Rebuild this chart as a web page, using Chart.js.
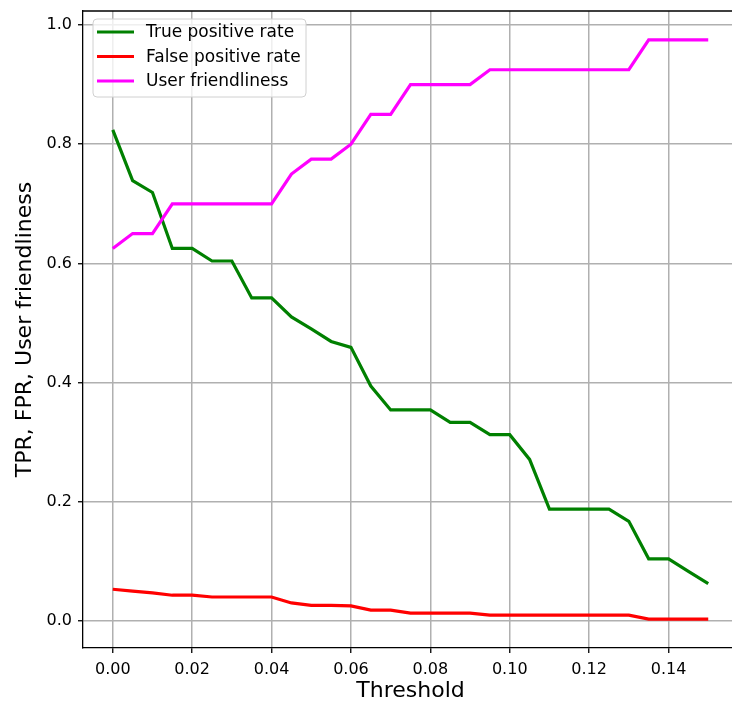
<!DOCTYPE html>
<html>
<head>
<meta charset="utf-8">
<script src="https://cdn.jsdelivr.net/npm/chart.js@4/dist/chart.umd.min.js"></script>
<style>
  html, body { margin: 0; padding: 0; background: #fff; overflow: hidden; }
  #wrap { width: 740px; height: 706px; }
</style>
</head>
<body>
<div id="wrap"><canvas id="rocChart" width="740" height="706"></canvas></div>
<script>
// Valores
const thresholds = [0, 0.005, 0.01, 0.015, 0.02, 0.025, 0.03, 0.035, 0.04, 0.045,
  0.05, 0.055, 0.06, 0.065, 0.07, 0.075, 0.08, 0.085, 0.09, 0.095,
  0.1, 0.105, 0.11, 0.115, 0.12, 0.125, 0.13, 0.135, 0.14, 0.145, 0.15];

const tpr = [0.824, 0.739, 0.719, 0.625, 0.625, 0.604, 0.604, 0.542, 0.542, 0.51,
  0.49, 0.469, 0.459, 0.394, 0.354, 0.354, 0.354, 0.333, 0.333, 0.3125,
  0.3125, 0.271, 0.1875, 0.1875, 0.1875, 0.1875, 0.167, 0.104, 0.104, 0.083, 0.0625];

const fpr = [0.053, 0.05, 0.047, 0.043, 0.043, 0.04, 0.04, 0.04, 0.04, 0.03,
  0.026, 0.026, 0.025, 0.018, 0.018, 0.013, 0.013, 0.013, 0.013, 0.0095,
  0.0095, 0.0095, 0.0095, 0.0095, 0.0095, 0.0095, 0.0095, 0.003, 0.003, 0.003, 0.003];

const userFriendliness = [0.625, 0.65, 0.65, 0.7, 0.7, 0.7, 0.7, 0.7, 0.7, 0.75,
  0.775, 0.775, 0.8, 0.85, 0.85, 0.9, 0.9, 0.9, 0.9, 0.925,
  0.925, 0.925, 0.925, 0.925, 0.925, 0.925, 0.925, 0.975, 0.975, 0.975, 0.975];

const xTicks = [0, 0.02, 0.04, 0.06, 0.08, 0.1, 0.12, 0.14];
const yTicks = [0, 0.2, 0.4, 0.6, 0.8, 1.0];

const seriesLabels = ["True positive rate", "False positive rate", "User friendliness"];

document.addEventListener("DOMContentLoaded", function () {
  loadChart();
});

function toPoints(values) {
  return thresholds.map(function (t, i) { return { x: t, y: values[i] }; });
}

// legenda no estilo do matplotlib, dentro da área do gráfico
const boxLegend = {
  id: "boxLegend",
  afterDraw(chart) {
    const ctx = chart.ctx;
    const area = chart.chartArea;
    const left = area.left + 10;
    const top = area.top + 8;
    const w = 213, h = 78;
    ctx.save();
    ctx.beginPath();
    ctx.roundRect(left, top, w, h, 4);
    ctx.fillStyle = "rgba(255,255,255,0.8)";
    ctx.fill();
    ctx.strokeStyle = "#d0d0d0";
    ctx.lineWidth = 1;
    ctx.stroke();
    ctx.font = "17px 'DejaVu Sans'";
    ctx.textBaseline = "middle";
    chart.data.datasets.forEach(function (ds, i) {
      const y = top + 13 + i * 24.5;
      ctx.beginPath();
      ctx.moveTo(left + 4, y);
      ctx.lineTo(left + 41, y);
      ctx.strokeStyle = ds.borderColor;
      ctx.lineWidth = 3;
      ctx.stroke();
      ctx.fillStyle = "#000";
      ctx.fillText(ds.label, left + 53, y + 1);
    });
    ctx.restore();
  }
};

// moldura superior e direita
const frame = {
  id: "frame",
  afterDatasetsDraw(chart) {
    const ctx = chart.ctx;
    const a = chart.chartArea;
    ctx.save();
    ctx.strokeStyle = "#000";
    ctx.lineWidth = 1.3;
    ctx.beginPath();
    ctx.moveTo(a.left, a.top);
    ctx.lineTo(a.right, a.top);
    ctx.lineTo(a.right, a.bottom);
    ctx.stroke();
    ctx.restore();
  }
};

function loadChart() {
  const ctx = document.getElementById("rocChart").getContext("2d");
  new Chart(ctx, {
    type: "line",
    data: {
      datasets: [
        { label: seriesLabels[0], data: toPoints(tpr), borderColor: "#008000", order: 3 },
        { label: seriesLabels[1], data: toPoints(fpr), borderColor: "#ff0000", order: 2 },
        { label: seriesLabels[2], data: toPoints(userFriendliness), borderColor: "#ff00ff", order: 1 },
      ],
    },
    options: {
      responsive: false,
      animation: false,
      devicePixelRatio: 1,
      layout: { padding: { top: 11, right: 2, left: 0, bottom: 0 } },
      elements: {
        line: { borderWidth: 3.2, tension: 0, fill: false, borderJoinStyle: "miter" },
        point: { radius: 0, hoverRadius: 0 },
      },
      plugins: { legend: { display: false }, tooltip: { enabled: false } },
      scales: {
        x: {
          type: "linear",
          min: -0.0075,
          max: 0.1575,
          afterFit: function (s) {
            s.height = 58;
            s.paddingLeft = 0;
            s.paddingRight = 0;
          },
          afterBuildTicks: function (s) { s.ticks = xTicks.map(function (v) { return { value: v }; }); },
          ticks: {
            color: "#000",
            padding: 7,
            maxRotation: 0,
            font: { family: "'DejaVu Sans'", size: 16 },
            callback: function (v) { return v.toFixed(2); },
          },
          grid: { color: "#b0b0b0", lineWidth: 1.5, tickLength: 5, tickColor: "#000", tickWidth: 1.3 },
          border: { color: "#000", width: 1.3 },
          title: {
            display: true,
            text: "Threshold",
            color: "#000",
            font: { family: "'DejaVu Sans'", size: 22 },
            padding: { top: 0, bottom: 2 },
          },
        },
        y: {
          type: "linear",
          min: -0.0456,
          max: 1.0236,
          afterFit: function (s) {
            s.width = 83;
            s.paddingTop = 0;
            s.paddingBottom = 0;
          },
          afterBuildTicks: function (s) { s.ticks = yTicks.map(function (v) { return { value: v }; }); },
          ticks: {
            color: "#000",
            padding: 6,
            font: { family: "'DejaVu Sans'", size: 16 },
            callback: function (v) { return v.toFixed(1); },
          },
          grid: { color: "#b0b0b0", lineWidth: 1.5, tickLength: 5, tickColor: "#000", tickWidth: 1.3 },
          border: { color: "#000", width: 1.3 },
          title: {
            display: true,
            text: "TPR, FPR, User friendliness",
            color: "#000",
            font: { family: "'DejaVu Sans'", size: 22 },
            padding: { top: 12, bottom: 0 },
          },
        },
      },
    },
    plugins: [boxLegend, frame],
  });
}
</script>
</body>
</html>
